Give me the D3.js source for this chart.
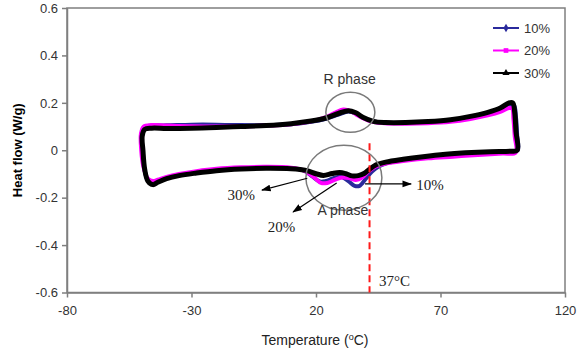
<!DOCTYPE html>
<html>
<head>
<meta charset="utf-8">
<script src="https://cdn.jsdelivr.net/npm/d3@7"></script>
<style>
  body { margin: 0; background: #fff; }
  svg { display: block; }
</style>
</head>
<body>
<svg id="chart" width="577" height="352"></svg>
<script>
// DSC loops, [temperature degC, heat flow W/g]
const loop10 = [
  [-49.8, 0.0], [-50, 0.07], [-49, 0.098], [-46, 0.104], [-40, 0.105], [-30, 0.108], [-20, 0.108],
  [-10, 0.106], [0, 0.106], [10, 0.11], [18, 0.12], [24, 0.133], [29, 0.15], [33, 0.163], [36, 0.155],
  [39, 0.137], [43, 0.121], [48, 0.116], [56, 0.115], [65, 0.118], [74, 0.125], [82, 0.138], [89, 0.155],
  [94, 0.172], [97.5, 0.19], [99.5, 0.19], [100.3, 0.14], [100.8, 0.06], [101, 0.0],
  [98, -0.006], [90, -0.01], [80, -0.015], [72, -0.02], [63, -0.03], [55, -0.042], [48, -0.056],
  [45, -0.07], [42.5, -0.09], [40, -0.12], [37.5, -0.15], [35.5, -0.15], [33, -0.13], [30, -0.112],
  [27, -0.118], [24, -0.13], [21.5, -0.132], [18.5, -0.11], [15, -0.085], [10, -0.076], [0, -0.074],
  [-10, -0.076], [-20, -0.084], [-28, -0.094], [-35, -0.106], [-40, -0.118], [-43.5, -0.132],
  [-45.5, -0.142], [-47.5, -0.128], [-49, -0.075]
]
const loop20 = [
  [-50.2, 0.0], [-50.3, 0.07], [-49.2, 0.1], [-46, 0.106], [-40, 0.104], [-30, 0.101], [-20, 0.1],
  [-10, 0.101], [0, 0.104], [10, 0.11], [18, 0.122], [24, 0.14], [28, 0.16], [31, 0.172], [34, 0.165],
  [37, 0.145], [41, 0.125], [45, 0.116], [55, 0.112], [65, 0.114], [74, 0.12], [82, 0.132], [89, 0.147],
  [94, 0.162], [97.5, 0.178], [98.8, 0.175], [99.3, 0.13], [99.8, 0.06], [100.2, -0.01],
  [95, -0.014], [85, -0.02], [75, -0.027], [65, -0.034], [55, -0.045], [48, -0.056], [44, -0.068],
  [41, -0.09], [38.5, -0.115], [36, -0.125], [33.5, -0.118], [30.5, -0.115], [27.5, -0.125],
  [24.5, -0.138], [22, -0.138], [19, -0.112], [15, -0.085], [10, -0.074], [0, -0.07], [-10, -0.072],
  [-20, -0.078], [-28, -0.088], [-35, -0.1], [-40, -0.112], [-43.5, -0.124], [-45.5, -0.13],
  [-47.5, -0.12], [-49.3, -0.07]
]
const loop30 = [
  [-49.5, 0.0], [-49.8, 0.06], [-48.8, 0.088], [-46, 0.093], [-40, 0.092], [-30, 0.093], [-20, 0.096],
  [-10, 0.1], [0, 0.104], [10, 0.112], [18, 0.123], [24, 0.136], [29, 0.155], [33, 0.167], [36, 0.158],
  [39, 0.138], [43, 0.122], [48, 0.117], [56, 0.117], [65, 0.121], [74, 0.129], [82, 0.143], [89, 0.16],
  [94, 0.178], [97.5, 0.2], [99, 0.2], [99.8, 0.16], [100.3, 0.08], [100.8, 0.0],
  [98, -0.004], [90, -0.006], [80, -0.011], [72, -0.017], [63, -0.027], [55, -0.038], [48, -0.05],
  [44, -0.062], [41.5, -0.08], [39.5, -0.097], [37, -0.107], [34.5, -0.108], [32, -0.099],
  [29.5, -0.094], [26.5, -0.098], [23, -0.106], [20, -0.099], [16, -0.085], [10, -0.078], [0, -0.076],
  [-10, -0.079], [-20, -0.086], [-28, -0.096], [-35, -0.107], [-40, -0.12], [-43.5, -0.135],
  [-45.5, -0.145], [-47.5, -0.13], [-48.8, -0.08]
]

const seriesNames = ['10%', '20%', '30%']
const xTicks = [-80, -30, 20, 70, 120]
const yTicks = [-0.6, -0.4, -0.2, 0, 0.2, 0.4, 0.6]
const bodyTemp = 41.5   // where the dashed 37°C line sits on the x scale

const series = [
  {name: seriesNames[0], data: loop10, color: '#2a2a9c', width: 4, symbol: d3.symbolDiamond},
  {name: seriesNames[1], data: loop20, color: '#ff00ff', width: 4, symbol: d3.symbolSquare},
  {name: seriesNames[2], data: loop30, color: '#000000', width: 5, symbol: d3.symbolTriangle}
]

const svg = d3.select('#chart')
const margin = {top: 8, right: 12, bottom: 59.5, left: 67}
const width = 577 - margin.left - margin.right
const height = 352 - margin.top - margin.bottom
const font = 'Arial, "Liberation Sans", sans-serif'
const serif = '"Times New Roman", "Liberation Serif", serif'

const x = d3.scaleLinear().domain([-80, 120]).range([margin.left, margin.left + width])
const y = d3.scaleLinear().domain([-0.6, 0.6]).range([margin.top + height, margin.top])

// plot frame
svg.append('rect')
  .attr('x', margin.left).attr('y', margin.top)
  .attr('width', width).attr('height', height)
  .attr('fill', 'none').attr('stroke', '#7f7f7f').attr('stroke-width', 1.5)

const xAxis = svg.append('g')
  .attr('transform', `translate(0, ${margin.top + height})`)
  .call(d3.axisBottom(x).tickValues(xTicks).tickSize(5).tickSizeOuter(0).tickFormat(d => d))
const yAxis = svg.append('g')
  .attr('transform', `translate(${margin.left}, 0)`)
  .call(d3.axisLeft(y).tickValues(yTicks).tickSize(5).tickSizeOuter(0)
    .tickFormat(d => d === 0 ? '0' : d.toFixed(1)))

;[xAxis, yAxis].forEach(ax => {
  ax.select('.domain').attr('stroke', '#7f7f7f').attr('stroke-width', 1.5)
  ax.selectAll('.tick line').attr('stroke', '#7f7f7f').attr('stroke-width', 1.5)
  ax.selectAll('.tick text').attr('fill', '#333').style('font', `13px ${font}`)
})
xAxis.selectAll('.tick text').attr('dy', '1.1em')
yAxis.selectAll('.tick text').attr('x', -9)

// loops
const line = d3.line()
  .x(d => x(d[0]))
  .y(d => y(d[1]))
  .curve(d3.curveCatmullRomClosed.alpha(0.5))

svg.selectAll('.loop')
  .data(series)
  .join('path')
  .attr('class', 'loop')
  .attr('d', d => line(d.data))
  .attr('fill', 'none')
  .attr('stroke', d => d.color)
  .attr('stroke-width', d => d.width)
  .attr('stroke-linejoin', 'round')

// 37 degC marker
svg.append('line')
  .attr('x1', x(bodyTemp)).attr('x2', x(bodyTemp))
  .attr('y1', y(0.03)).attr('y2', y(-0.6))
  .attr('stroke', '#ff1a1a').attr('stroke-width', 2)
  .attr('stroke-dasharray', '7,4')

// phase ellipses
const ellipses = [
  {cx: 33.8, cy: 0.16, rx: 24.5, ry: 20},
  {cx: 31.2, cy: -0.116, rx: 38, ry: 32.5}
]
svg.selectAll('.phase')
  .data(ellipses)
  .join('ellipse')
  .attr('cx', d => x(d.cx)).attr('cy', d => y(d.cy))
  .attr('rx', d => d.rx).attr('ry', d => d.ry)
  .attr('fill', 'none').attr('stroke', '#7a7a7a').attr('stroke-width', 1.5)

svg.append('defs').append('marker')
  .attr('id', 'arrow')
  .attr('viewBox', '0 0 10 10')
  .attr('refX', 9).attr('refY', 5)
  .attr('markerWidth', 8).attr('markerHeight', 8)
  .attr('orient', 'auto')
  .append('path').attr('d', 'M0,1.5 L10,5 L0,8.5 Z').attr('fill', '#000')

// arrows, in data units: [fromT, fromH, toT, toH]
const arrows = [
  [16.5, -0.118, -1.7, -0.168],
  [28.3, -0.138, 10.8, -0.26],
  [39.7, -0.142, 58.2, -0.142]
]
svg.selectAll('.arrow')
  .data(arrows)
  .join('line')
  .attr('x1', d => x(d[0])).attr('y1', d => y(d[1]))
  .attr('x2', d => x(d[2])).attr('y2', d => y(d[3]))
  .attr('stroke', '#000').attr('stroke-width', 1.2)
  .attr('marker-end', 'url(#arrow)')

// labels on the plot
const sansLabels = [
  {t: 'R phase', x: 33.5, y: 0.278},
  {t: 'A phase', x: 30.8, y: -0.275}
]
svg.selectAll('.phaseLabel')
  .data(sansLabels)
  .join('text')
  .attr('x', d => x(d.x)).attr('y', d => y(d.y))
  .attr('text-anchor', 'middle')
  .attr('fill', '#333')
  .style('font', `14px ${font}`)
  .text(d => d.t)

const serifLabels = [
  {t: '30%', x: -15.5, y: -0.211},
  {t: '20%', x: 0.6, y: -0.345},
  {t: '10%', x: 60.3, y: -0.169},
  {t: '37°C', x: 45.3, y: -0.574}
]
svg.selectAll('.pctLabel')
  .data(serifLabels)
  .join('text')
  .attr('x', d => x(d.x)).attr('y', d => y(d.y))
  .attr('fill', '#222')
  .style('font', `15px ${serif}`)
  .text(d => d.t)

// legend
const legend = svg.append('g').attr('transform', 'translate(493, 28)')
const rows = legend.selectAll('g')
  .data(series)
  .join('g')
  .attr('transform', (d, i) => `translate(0, ${i * 22.5})`)
rows.append('line')
  .attr('x1', 0).attr('x2', 26)
  .attr('stroke', d => d.color).attr('stroke-width', 2)
rows.append('path')
  .attr('transform', 'translate(13, 0)')
  .attr('d', d => d3.symbol(d.symbol, 22)())
  .attr('fill', d => d.color)
rows.append('text')
  .attr('x', 31).attr('dy', '0.36em')
  .attr('fill', '#333')
  .style('font', `13px ${font}`)
  .text(d => d.name)

// axis titles
svg.append('text')
  .attr('transform', `translate(22, ${margin.top + height / 2}) rotate(-90)`)
  .attr('text-anchor', 'middle')
  .style('font', `bold 13px ${font}`)
  .attr('fill', '#000')
  .text('Heat flow (W/g)')

const xt = svg.append('text')
  .attr('x', 315).attr('y', 345)
  .attr('text-anchor', 'middle')
  .attr('fill', '#222')
  .style('font', `14px ${font}`)
xt.append('tspan').text('Temperature (')
xt.append('tspan').attr('dy', -5).style('font-size', '9px').text('o')
xt.append('tspan').attr('dy', 5).text('C)')
</script>
</body>
</html>
